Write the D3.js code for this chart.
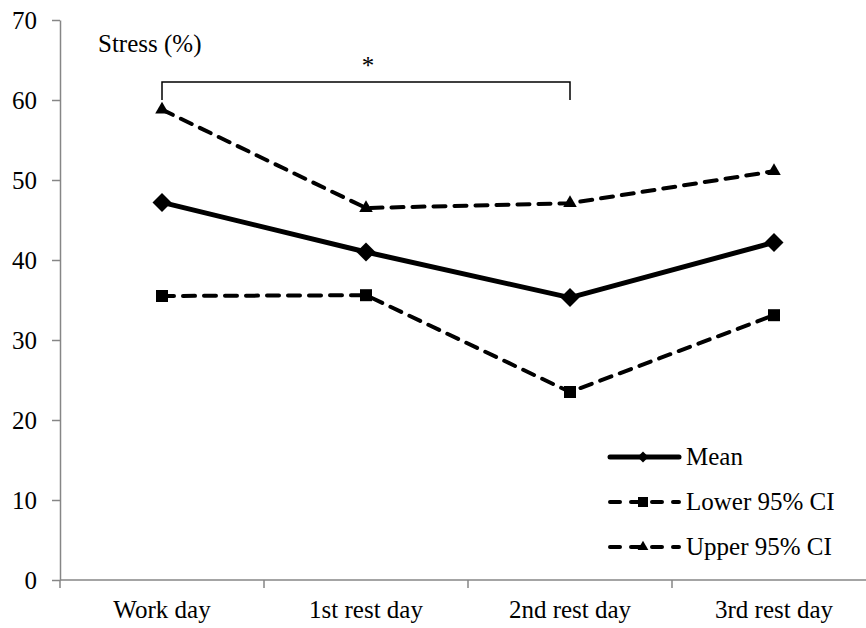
<!DOCTYPE html>
<html>
<head>
<meta charset="utf-8">
<script src="https://cdn.jsdelivr.net/npm/d3@7"></script>
</head>
<body style="margin:0">
<script>
// data
const days = ["Work day", "1st rest day", "2nd rest day", "3rd rest day"];
const meanVals = [47.2, 41.0, 35.3, 42.2];
const lowerVals = [35.5, 35.6, 23.5, 33.1];
const upperVals = [58.8, 46.5, 47.1, 51.1];
const yTicks = [0, 10, 20, 30, 40, 50, 60, 70];
const seriesNames = ["Mean", "Lower 95% CI", "Upper 95% CI"];

const FONT = '"Liberation Serif"';

init();

function init() {
  let width = 866, height = 628;

  let svg = d3.select("body")
              .append("svg")
              .attr("width", width)
              .attr("height", height);

  let x = d3.scaleBand().domain(days).range([60, 876]);
  let y = d3.scaleLinear().domain([0, 70]).range([580, 20]);
  let cx = d => x(d) + x.bandwidth() / 2;

  // y axis
  let yAxis = svg.append("g")
                 .attr("transform", "translate(60,0)")
                 .call(d3.axisLeft(y).tickValues(yTicks).tickSize(8).tickSizeOuter(0).tickPadding(15));
  yAxis.select(".domain").attr("stroke", "#868686").attr("stroke-width", 1.5);
  yAxis.selectAll(".tick line").attr("stroke", "#868686").attr("stroke-width", 1.5);
  yAxis.selectAll(".tick text")
       .style("font-family", FONT)
       .style("font-size", "25px")
       .attr("fill", "#000");

  // x axis: line, boundary ticks, centred labels
  let xg = svg.append("g");
  xg.append("line")
    .attr("x1", 60).attr("x2", 876)
    .attr("y1", y(0)).attr("y2", y(0))
    .attr("stroke", "#868686").attr("stroke-width", 1.5);
  xg.selectAll(".xtick")
    .data(days)
    .enter().append("line")
    .attr("x1", d => x(d)).attr("x2", d => x(d))
    .attr("y1", y(0)).attr("y2", y(0) + 8)
    .attr("stroke", "#868686").attr("stroke-width", 1.5);
  xg.selectAll(".xlabel")
    .data(days)
    .enter().append("text")
    .attr("x", cx)
    .attr("y", 618)
    .style("text-anchor", "middle")
    .style("font-family", FONT)
    .style("font-size", "25px")
    .text(d => d);

  // title
  svg.append("text")
     .attr("x", 98).attr("y", 52)
     .style("font-family", FONT)
     .style("font-size", "25px")
     .text("Stress (%)");

  // significance bracket
  let bx1 = cx(days[0]), bx2 = cx(days[2]);
  svg.append("path")
     .attr("d", `M${bx1},100V82H${bx2}V100`)
     .attr("fill", "none")
     .attr("stroke", "#000")
     .attr("stroke-width", 1.5);
  svg.append("text")
     .attr("x", (bx1 + bx2) / 2 + 2).attr("y", 74)
     .style("text-anchor", "middle")
     .style("font-family", FONT)
     .style("font-size", "25px")
     .text("*");

  let line = d3.line().x((d, i) => cx(days[i])).y(d => y(d));

  let series = [
    { vals: upperVals, dash: "12,9", w: 4, sym: d3.symbolTriangle, size: 80, rot: 0 },
    { vals: lowerVals, dash: "12,9", w: 4, sym: d3.symbolSquare, size: 144, rot: 0 },
    { vals: meanVals, dash: null, w: 5, sym: d3.symbolSquare, size: 180, rot: 45 }
  ];

  series.forEach(s => {
    svg.append("path")
       .datum(s.vals)
       .attr("d", line)
       .attr("fill", "none")
       .attr("stroke", "#000")
       .attr("stroke-width", s.w)
       .attr("stroke-linecap", s.dash ? "round" : "butt")
       .attr("stroke-linejoin", "round")
       .attr("stroke-dasharray", s.dash);
    svg.selectAll(null)
       .data(s.vals)
       .enter().append("path")
       .attr("d", d3.symbol().type(s.sym).size(s.size))
       .attr("transform", (d, i) => `translate(${cx(days[i])},${y(d)}) rotate(${s.rot})`)
       .attr("fill", "#000");
  });

  // legend
  let legend = [
    { name: seriesNames[0], dash: null, w: 5, sym: d3.symbolSquare, size: 60, rot: 45 },
    { name: seriesNames[1], dash: "10,11", w: 4, sym: d3.symbolSquare, size: 100, rot: 0 },
    { name: seriesNames[2], dash: "10,11", w: 4, sym: d3.symbolTriangle, size: 50, rot: 0 }
  ];
  legend.forEach((l, i) => {
    let ly = 457 + i * 45;
    svg.append("line")
       .attr("x1", 610).attr("x2", 679)
       .attr("y1", ly).attr("y2", ly)
       .attr("stroke", "#000")
       .attr("stroke-width", l.w)
       .attr("stroke-linecap", "round")
       .attr("stroke-dasharray", l.dash);
    svg.append("path")
       .attr("d", d3.symbol().type(l.sym).size(l.size))
       .attr("transform", `translate(643,${ly}) rotate(${l.rot})`)
       .attr("fill", "#000");
    svg.append("text")
       .attr("x", 686).attr("y", ly + 8)
       .style("font-family", FONT)
       .style("font-size", "25px")
       .text(l.name);
  });
}
</script>
</body>
</html>
